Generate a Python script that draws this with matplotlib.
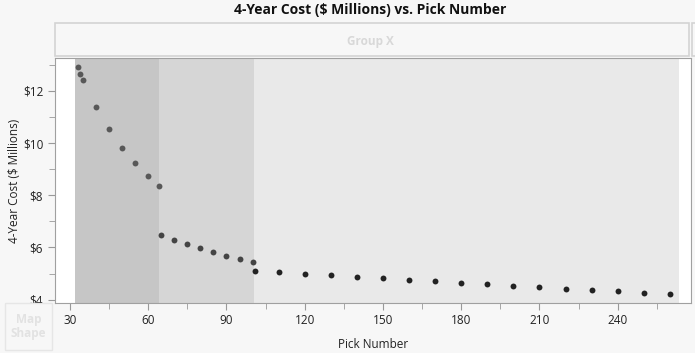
import matplotlib.pyplot as plt
from matplotlib.patches import Rectangle
from matplotlib.ticker import MultipleLocator

# pick numbers and 4-year cost ($ millions), grouped by the marker colour
picks_a = [33, 34, 35, 40, 45, 50, 55, 60, 64]
cost_a = [12.92, 12.66, 12.43, 11.38, 10.54, 9.83, 9.24, 8.73, 8.37]
picks_b = [65, 70, 75, 80, 85, 90, 95, 100]
cost_b = [6.46, 6.27, 6.12, 5.96, 5.82, 5.69, 5.56, 5.46]
picks_c = [101, 110, 120, 130, 140, 150, 160, 170, 180, 190, 200, 210, 220, 230, 240, 250, 260]
cost_c = [5.10, 5.06, 5.00, 4.94, 4.88, 4.82, 4.77, 4.72, 4.65, 4.60, 4.54, 4.49, 4.42, 4.37, 4.32, 4.25, 4.20]

# shaded bands (pick ranges)
bands = [(31.9, 64.1, '#c6c6c6'), (64.1, 100.55, '#d6d6d6'), (100.55, 263.5, '#e9e9e9')]

x_ticks = [30, 60, 90, 120, 150, 180, 210, 240]
y_ticks = [4, 6, 8, 10, 12]

plt.rcParams['font.family'] = ['Open Sans', 'DejaVu Sans']

fig = plt.figure(figsize=(6.95, 3.53), dpi=100)
fig.patch.set_facecolor('#f7f7f7')
ax = fig.add_axes([55 / 695, 50 / 353, 636 / 695, 244.7 / 353])
ax.set_facecolor('white')

for lo, hi, c in bands:
    ax.axvspan(lo, hi, color=c, lw=0, zorder=0)

ax.scatter(picks_a, cost_a, s=18, color='#585858', zorder=3, lw=0)
ax.scatter(picks_b, cost_b, s=18, color='#444444', zorder=3, lw=0)
ax.scatter(picks_c, cost_c, s=18, color='#222222', zorder=3, lw=0)

ax.set_xlim(24.25, 268.1)
ax.set_ylim(3.87, 13.25)
ax.set_xticks(x_ticks)
ax.set_yticks(y_ticks)
ax.set_yticklabels(['$%d' % v for v in y_ticks])
ax.xaxis.set_minor_locator(MultipleLocator(15))
ax.yaxis.set_minor_locator(MultipleLocator(1))
ax.tick_params(which='both', color='#999999', labelsize=8.5, labelcolor='#222222')
ax.tick_params(which='major', length=5)
ax.tick_params(which='minor', length=4)
ax.tick_params(axis='x', pad=3)
for s in ax.spines.values():
    s.set_color('#a0a0a0')

ax.set_xlabel('Pick Number', fontsize=8.5, color='#222222', labelpad=8)
ax.set_ylabel('4-Year Cost ($ Millions)', fontsize=8.5, color='#222222', labelpad=1)

fig.text(370 / 695, 1 - 10 / 353, '4-Year Cost ($ Millions) vs. Pick Number',
         ha='center', va='center', fontsize=10, fontweight='bold', color='#111111')

# Group X header box
fig.patches.append(Rectangle((55 / 695, 1 - 56 / 353), 634 / 695, 33 / 353,
                             transform=fig.transFigure, facecolor='#f7f7f7',
                             edgecolor='#d4d4d4', lw=1.2))
fig.patches.append(Rectangle((692 / 695, 1 - 56 / 353), 10 / 695, 33 / 353,
                             transform=fig.transFigure, facecolor='#f7f7f7',
                             edgecolor='#d4d4d4', lw=1.2))
fig.text(370 / 695, 1 - 41 / 353, 'Group X', ha='center', va='center',
         fontsize=8.5, fontweight='bold', color='#d8d8d8')

# Map Shape box
fig.patches.append(Rectangle((5 / 695, 3 / 353), 47 / 695, 47 / 353,
                             transform=fig.transFigure, facecolor='#f7f7f7',
                             edgecolor='#e6e6e6', lw=1))
fig.text(28.5 / 695, 1 - 326 / 353, 'Map\nShape', ha='center', va='center',
         fontsize=8.5, fontweight='bold', color='#e2e2e2', linespacing=1.1)

fig.savefig('out.png', dpi=100, facecolor=fig.get_facecolor())
